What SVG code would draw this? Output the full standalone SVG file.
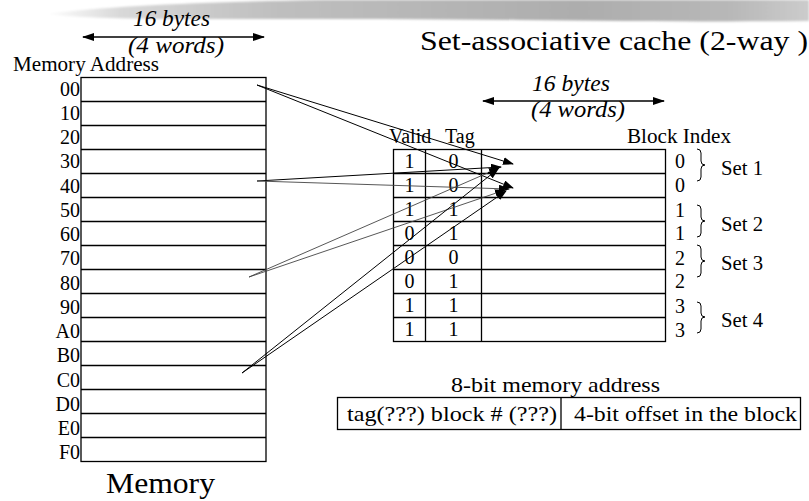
<svg xmlns="http://www.w3.org/2000/svg" width="809" height="501" viewBox="0 0 809 501">
<defs>
<linearGradient id="band" x1="0" y1="0" x2="1" y2="0">
<stop offset="0" stop-color="#ffffff"/>
<stop offset="0.1" stop-color="#d8d8d8"/>
<stop offset="0.3" stop-color="#bfbfbf"/>
<stop offset="0.7" stop-color="#adadad"/>
<stop offset="0.9" stop-color="#b8b8b8"/>
<stop offset="1" stop-color="#cccccc"/>
</linearGradient>
<filter id="soft" x="-5%" y="-50%" width="110%" height="200%">
<feGaussianBlur stdDeviation="1"/>
</filter>
<marker id="dbl" viewBox="0 0 12 8" refX="11" refY="4" markerWidth="12" markerHeight="8" markerUnits="userSpaceOnUse" orient="auto-start-reverse">
<path d="M0,0 L12,4 L0,8 Z" fill="#000"/>
</marker>
<marker id="ah" viewBox="0 0 11 8" refX="10" refY="4" markerWidth="11" markerHeight="8" markerUnits="userSpaceOnUse" orient="auto">
<path d="M0,0 L11,4 L0,8 Z" fill="#000"/>
</marker>
<style>
text{font-family:"Liberation Serif","Times New Roman",serif;fill:#000}
.lbl{font-size:20px}
.it{font-size:23px;font-style:italic}
.cell{fill:#fff;stroke:#000;stroke-width:1.3}
.grid{stroke:#000;stroke-width:1.3;fill:none}
.conn{stroke:#000;stroke-width:1;fill:none;marker-end:url(#ah)}
.conn2{stroke:#444;stroke-width:0.9;fill:none;marker-end:url(#ah)}
.dim{stroke:#000;stroke-width:1.5;marker-start:url(#dbl);marker-end:url(#dbl)}
.brace{stroke:#000;stroke-width:1;fill:none}
</style>
</defs>
<rect width="809" height="501" fill="#fff"/>
<path d="M45,14 C110,6 200,2 320,0 L809,0 L809,21 C720,22 620,21 520,20 C420,19 300,19 200,19 C130,19 80,18 45,14 Z" fill="url(#band)" filter="url(#soft)"/>

<g id="memory">
<rect class="cell" x="81" y="77.5" width="185" height="384"/>
<path class="grid" d="M81,101.5H266M81,125.5H266M81,149.5H266M81,173.5H266M81,197.5H266M81,221.5H266M81,245.5H266M81,269.5H266M81,293.5H266M81,317.5H266M81,341.5H266M81,365.5H266M81,389.5H266M81,413.5H266M81,437.5H266"/>
<text class="lbl" x="13" y="71" textLength="146" lengthAdjust="spacingAndGlyphs">Memory Address</text>
<g class="lbl" text-anchor="end">
<text x="80" y="96">00</text>
<text x="80" y="120">10</text>
<text x="80" y="144">20</text>
<text x="80" y="168">30</text>
<text x="80" y="193">40</text>
<text x="80" y="217">50</text>
<text x="80" y="241">60</text>
<text x="80" y="265">70</text>
<text x="80" y="290">80</text>
<text x="80" y="314">90</text>
<text x="80" y="338">A0</text>
<text x="80" y="362">B0</text>
<text x="80" y="387">C0</text>
<text x="80" y="411">D0</text>
<text x="80" y="435">E0</text>
<text x="80" y="459">F0</text>
</g>
<text x="106" y="493" font-size="30" textLength="109" lengthAdjust="spacingAndGlyphs">Memory</text>
</g>

<g id="mem-width">
<line class="dim" x1="83" y1="37" x2="264" y2="37"/>
<text class="it" x="133" y="26" textLength="77" lengthAdjust="spacingAndGlyphs">16 bytes</text>
<text class="it" x="128" y="53" textLength="96" lengthAdjust="spacingAndGlyphs">(4 words)</text>
</g>

<g id="title">
<text x="420" y="50" font-size="28" textLength="388" lengthAdjust="spacingAndGlyphs">Set-associative cache (2-way )</text>
</g>

<g id="cache-width">
<line class="dim" x1="483" y1="101" x2="664" y2="101"/>
<text class="it" x="532" y="91" textLength="78" lengthAdjust="spacingAndGlyphs">16 bytes</text>
<text class="it" x="531" y="117" textLength="94" lengthAdjust="spacingAndGlyphs">(4 words)</text>
</g>

<g id="cache">
<rect class="cell" x="393.5" y="149.5" width="272" height="192"/>
<path class="grid" d="M425.5,149.5V341.5M481.5,149.5V341.5M393.5,173.5H665.5M393.5,197.5H665.5M393.5,221.5H665.5M393.5,245.5H665.5M393.5,269.5H665.5M393.5,293.5H665.5M393.5,317.5H665.5"/>
<text class="lbl" x="389" y="143">Valid</text>
<text class="lbl" x="445" y="143">Tag</text>
<text class="lbl" x="627" y="143" textLength="104" lengthAdjust="spacingAndGlyphs">Block Index</text>
<g class="lbl" text-anchor="middle">
<text x="409.5" y="167.5">1</text><text x="453.5" y="167.5">0</text>
<text x="409.5" y="191.5">1</text><text x="453.5" y="191.5">0</text>
<text x="409.5" y="215.5">1</text><text x="453.5" y="215.5">1</text>
<text x="409.5" y="239.5">0</text><text x="453.5" y="239.5">1</text>
<text x="409.5" y="263.5">0</text><text x="453.5" y="263.5">0</text>
<text x="409.5" y="287.5">0</text><text x="453.5" y="287.5">1</text>
<text x="409.5" y="311.5">1</text><text x="453.5" y="311.5">1</text>
<text x="409.5" y="335.5">1</text><text x="453.5" y="335.5">1</text>
</g>
<g class="lbl">
<text x="675" y="168">0</text>
<text x="675" y="192">0</text>
<text x="675" y="217">1</text>
<text x="675" y="240">1</text>
<text x="675" y="265">2</text>
<text x="675" y="288">2</text>
<text x="675" y="313">3</text>
<text x="675" y="337">3</text>
</g>
</g>

<g id="sets">
<path class="brace" d="M697,149 Q701,149 701,153 L701,161 Q701,165 705,165 Q701,165 701,169 L701,177 Q701,181 697,181"/>
<path class="brace" d="M697,205 Q701,205 701,209 L701,217 Q701,221 705,221 Q701,221 701,225 L701,233 Q701,237 697,237"/>
<path class="brace" d="M697,245 Q701,245 701,249 L701,257 Q701,261 705,261 Q701,261 701,265 L701,273 Q701,277 697,277"/>
<path class="brace" d="M697,302 Q701,302 701,306 L701,313 Q701,317 705,317 Q701,317 701,321 L701,329 Q701,333 697,333"/>
<text class="lbl" x="721" y="175" textLength="42" lengthAdjust="spacingAndGlyphs">Set 1</text>
<text class="lbl" x="721" y="231" textLength="42" lengthAdjust="spacingAndGlyphs">Set 2</text>
<text class="lbl" x="721" y="270" textLength="42" lengthAdjust="spacingAndGlyphs">Set 3</text>
<text class="lbl" x="721" y="327" textLength="42" lengthAdjust="spacingAndGlyphs">Set 4</text>
</g>

<g id="address">
<rect class="cell" x="337.5" y="397.5" width="463" height="32"/>
<line class="grid" x1="561" y1="397.5" x2="561" y2="429.5"/>
<text x="451" y="392" font-size="21" textLength="209" lengthAdjust="spacingAndGlyphs">8-bit memory address</text>
<text x="347" y="421" font-size="21" textLength="210" lengthAdjust="spacingAndGlyphs">tag(???) block # (???)</text>
<text x="574" y="421" font-size="21" textLength="223" lengthAdjust="spacingAndGlyphs">4-bit offset in the block</text>
</g>

<g id="connectors">
<line class="conn" x1="257" y1="85" x2="513" y2="164"/>
<line class="conn" x1="257" y1="85" x2="513" y2="188"/>
<line class="conn" x1="257" y1="181" x2="501" y2="167"/>
<line class="conn2" x1="257" y1="181" x2="509" y2="189"/>
<line class="conn2" x1="249" y1="277" x2="499" y2="168"/>
<line class="conn2" x1="249" y1="277" x2="505" y2="190"/>
<line class="conn" x1="242" y1="373" x2="498" y2="169"/>
<line class="conn" x1="242" y1="373" x2="506" y2="191"/>
</g>
</svg>
